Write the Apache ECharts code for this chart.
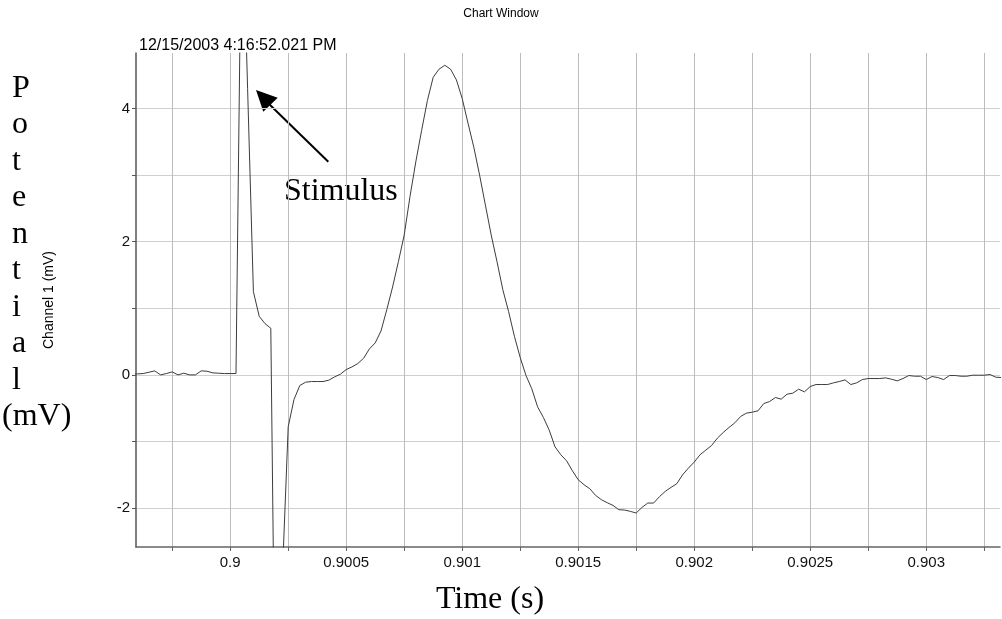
<!DOCTYPE html>
<html>
<head>
<meta charset="utf-8">
<script src="https://cdn.jsdelivr.net/npm/echarts@6/dist/echarts.min.js"></script>
<style>
html,body{margin:0;padding:0;background:#fff;}
#chart{width:1002px;height:619px;}
</style>
</head>
<body>
<div id="chart"></div>
<script>
// Sample times (s), 40 kHz sampling
const timeS = [
  0.899575, 0.8996, 0.899625, 0.89965, 0.899675, 0.8997, 0.899725, 0.89975, 0.899775, 0.8998,
  0.899825, 0.89985, 0.899875, 0.8999, 0.899925, 0.89995, 0.899975, 0.9, 0.900025, 0.90005,
  0.900075, 0.9001, 0.900125, 0.90015, 0.900175, 0.9002, 0.900225, 0.90025, 0.900275, 0.9003,
  0.900325, 0.90035, 0.900375, 0.9004, 0.900425, 0.90045, 0.900475, 0.9005, 0.900525, 0.90055,
  0.900575, 0.9006, 0.900625, 0.90065, 0.900675, 0.9007, 0.900725, 0.90075, 0.900775, 0.9008,
  0.900825, 0.90085, 0.900875, 0.9009, 0.900925, 0.90095, 0.900975, 0.901, 0.901025, 0.90105,
  0.901075, 0.9011, 0.901125, 0.90115, 0.901175, 0.9012, 0.901225, 0.90125, 0.901275, 0.9013,
  0.901325, 0.90135, 0.901375, 0.9014, 0.901425, 0.90145, 0.901475, 0.9015, 0.901525, 0.90155,
  0.901575, 0.9016, 0.901625, 0.90165, 0.901675, 0.9017, 0.901725, 0.90175, 0.901775, 0.9018,
  0.901825, 0.90185, 0.901875, 0.9019, 0.901925, 0.90195, 0.901975, 0.902, 0.902025, 0.90205,
  0.902075, 0.9021, 0.902125, 0.90215, 0.902175, 0.9022, 0.902225, 0.90225, 0.902275, 0.9023,
  0.902325, 0.90235, 0.902375, 0.9024, 0.902425, 0.90245, 0.902475, 0.9025, 0.902525, 0.90255,
  0.902575, 0.9026, 0.902625, 0.90265, 0.902675, 0.9027, 0.902725, 0.90275, 0.902775, 0.9028,
  0.902825, 0.90285, 0.902875, 0.9029, 0.902925, 0.90295, 0.902975, 0.903, 0.903025, 0.90305,
  0.903075, 0.9031, 0.903125, 0.90315, 0.903175, 0.9032, 0.903225, 0.90325, 0.903275, 0.9033,
  0.903325
];
// Channel 1 potential (mV)
const channel1mV = [
  0.01, 0.015, 0.02, 0.04, 0.06, 0.0, 0.02, 0.045, 0.0, 0.025,
  0.0, 0.0, 0.06, 0.055, 0.03, 0.025, 0.02, 0.02, 0.02, 7.4,
  4.3, 1.25, 0.88, 0.77, 0.70, -7.0, -3.0, -0.78, -0.37, -0.16,
  -0.11, -0.10, -0.10, -0.10, -0.08, -0.03, 0.01, 0.08, 0.12, 0.17,
  0.25, 0.39, 0.48, 0.66, 0.98, 1.32, 1.70, 2.10, 2.68, 3.20,
  3.67, 4.12, 4.47, 4.59, 4.65, 4.59, 4.43, 4.15, 3.78, 3.42,
  3.0, 2.55, 2.1, 1.70, 1.28, 0.95, 0.58, 0.26, -0.01, -0.21,
  -0.48, -0.64, -0.83, -1.08, -1.2, -1.29, -1.44, -1.575, -1.65, -1.71,
  -1.81, -1.875, -1.92, -1.96, -2.025, -2.03, -2.05, -2.075, -1.99, -1.925,
  -1.925, -1.83, -1.75, -1.69, -1.635, -1.5, -1.4, -1.31, -1.2, -1.13,
  -1.06, -0.95, -0.865, -0.79, -0.72, -0.625, -0.575, -0.56, -0.54, -0.43,
  -0.40, -0.34, -0.365, -0.29, -0.275, -0.215, -0.255, -0.175, -0.145, -0.145,
  -0.145, -0.12, -0.10, -0.075, -0.145, -0.12, -0.07, -0.055, -0.055, -0.055,
  -0.045, -0.065, -0.09, -0.055, -0.01, -0.02, -0.02, -0.07, -0.025, -0.04,
  -0.07, -0.01, -0.01, -0.02, -0.02, -0.005, -0.005, -0.005, 0.005, -0.035,
  -0.04
];
const xTickValues = [0.89975, 0.9, 0.90025, 0.9005, 0.90075, 0.901, 0.90125, 0.9015, 0.90175, 0.902, 0.90225, 0.9025, 0.90275, 0.903, 0.90325];
const xLabelValues = [0.9, 0.9005, 0.901, 0.9015, 0.902, 0.9025, 0.903];
const xTickLabels = ['0.9', '0.9005', '0.901', '0.9015', '0.902', '0.9025', '0.903'];
const yTickValues = [-2, -1, 0, 1, 2, 3, 4];
const yLabelValues = [-2, 0, 2, 4];
const yTickLabels = ['-2', '0', '2', '4'];

const xMin = 0.899594, xMax = 0.903318;
const yMin = -2.585, yMax = 4.834;

function labelFor(values, labels, v) {
  for (let i = 0; i < values.length; i++) {
    if (Math.abs(values[i] - v) < 1e-9) return labels[i];
  }
  return '';
}

const chart = echarts.init(document.getElementById('chart'), null, {renderer: 'canvas'});
const sans = 'Liberation Sans, Arial, sans-serif';
const serif = 'Liberation Serif, Times New Roman, serif';

chart.setOption({
  animation: false,
  backgroundColor: '#ffffff',
  title: {
    text: 'Chart Window',
    left: 'center',
    top: 3,
    textStyle: {fontSize: 12, fontWeight: 'normal', color: '#000', fontFamily: sans}
  },
  grid: {left: 136, right: 2, top: 53, bottom: 72, containLabel: false, outerBoundsMode: 'none'},
  xAxis: {
    type: 'value',
    min: xMin,
    max: xMax,
    axisLine: {show: true, onZero: false, lineStyle: {color: '#666', width: 1.5}},
    axisTick: {show: true, inside: false, length: 4, customValues: xTickValues, lineStyle: {color: '#666'}},
    axisLabel: {
      customValues: xLabelValues,
      margin: 8,
      fontSize: 15,
      fontFamily: sans,
      color: '#111',
      formatter: v => labelFor(xLabelValues, xTickLabels, v)
    },
    splitLine: {show: true, lineStyle: {color: '#bdbdbd', width: 1}}
  },
  yAxis: {
    type: 'value',
    min: yMin,
    max: yMax,
    name: 'Channel 1 (mV)',
    nameLocation: 'middle',
    nameGap: 80,
    nameTextStyle: {fontSize: 14, fontFamily: sans, color: '#000'},
    axisLine: {show: true, onZero: false, lineStyle: {color: '#555', width: 1.5}},
    axisTick: {show: true, inside: false, length: 4, customValues: yTickValues, lineStyle: {color: '#555'}},
    axisLabel: {
      customValues: yLabelValues,
      margin: 6,
      fontSize: 15,
      fontFamily: sans,
      color: '#111',
      formatter: v => labelFor(yLabelValues, yTickLabels, v)
    },
    splitLine: {show: true, lineStyle: {color: '#cfcfcf', width: 1}}
  },
  series: [{
    type: 'line',
    name: 'Channel 1',
    data: timeS.map((t, i) => [t, channel1mV[i]]),
    showSymbol: false,
    clip: true,
    lineStyle: {color: '#3c3c3c', width: 1},
    silent: true
  }],
  graphic: [
    {type: 'text', left: 139, top: 38, style: {text: '12/15/2003 4:16:52.021 PM', font: '16px ' + sans, fill: '#000'}},
    {type: 'text', x: 12, y: 70, style: {text: 'P\no\nt\ne\nn\nt\ni\na\nl', font: '32px ' + serif, fill: '#000', lineHeight: 36.5, verticalAlign: 'top', align: 'left'}},
    {type: 'text', x: 2, y: 417, style: {text: '(mV)', font: '32px ' + serif, fill: '#000', verticalAlign: 'middle', align: 'left'}},
    {type: 'text', x: 284, y: 192, style: {text: 'Stimulus', font: '32px ' + serif, fill: '#000', verticalAlign: 'middle', align: 'left'}},
    {type: 'text', x: 490, y: 600, style: {text: 'Time (s)', font: '32px ' + serif, fill: '#000', verticalAlign: 'middle', align: 'center'}},
    {type: 'line', shape: {x1: 328.3, y1: 161.7, x2: 268, y2: 103}, style: {stroke: '#000', lineWidth: 2}},
    {type: 'polygon', shape: {points: [[256, 90], [263.3, 111.7], [277.7, 97.7]]}, style: {fill: '#000'}}
  ]
});
</script>
</body>
</html>
